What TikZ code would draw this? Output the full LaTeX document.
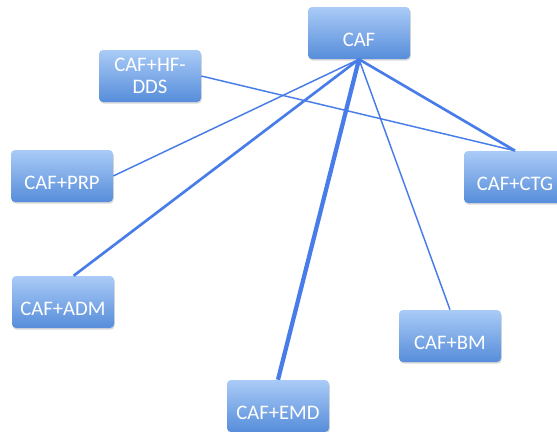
\documentclass[tikz,border=0pt]{standalone}
\usepackage{fontspec}
\setmainfont{Carlito}
\usetikzlibrary{positioning,shadows}

\definecolor{boxtop}{RGB}{170,203,247}
\definecolor{boxbot}{RGB}{86,141,218}
\definecolor{link}{RGB}{72,124,232}

\begin{document}
\begin{tikzpicture}[x=0.75pt,y=-0.75pt,
  box/.style={rectangle,rounded corners=3pt,minimum width=76.5pt,minimum height=39pt,
    top color=boxtop,bottom color=boxbot,text=white,font=\fontsize{15.5}{16.5}\selectfont,
    align=center,inner sep=2pt,text height=20pt,text depth=0pt,
    drop shadow={shadow xshift=0.6pt,shadow yshift=-1.2pt,opacity=0.3}},
  thin link/.style={draw=link,line width=1.1pt},
  mid link/.style={draw=link,line width=2pt},
  fat link/.style={draw=link,line width=3.2pt}]

  \useasboundingbox (0,0) rectangle (557,432);

  \node[box] (caf) at (359,33) {CAF};
  \node[box,text height=,text depth=] (hfdds) at (150,76) {CAF+HF-\\DDS};
  \node[box] (prp) at (62,176) {CAF+PRP};
  \node[box] (ctg) at (515,177) {CAF+CTG};
  \node[box] (adm) at (63,302) {CAF+ADM};
  \node[box] (bm) at (450,336) {CAF+BM};
  \node[box] (emd) at (278,406) {CAF+EMD};

  \draw[thin link] (hfdds.east) -- (ctg.north);
  \draw[thin link] (caf.south) -- (prp.east);
  \draw[mid link] (caf.south) -- ([xshift=8pt]adm.north);
  \draw[fat link] (caf.south) -- (emd.north);
  \draw[thin link] (caf.south) -- (bm.north);
  \draw[mid link] (caf.south) -- (ctg.north);
\end{tikzpicture}
\end{document}
